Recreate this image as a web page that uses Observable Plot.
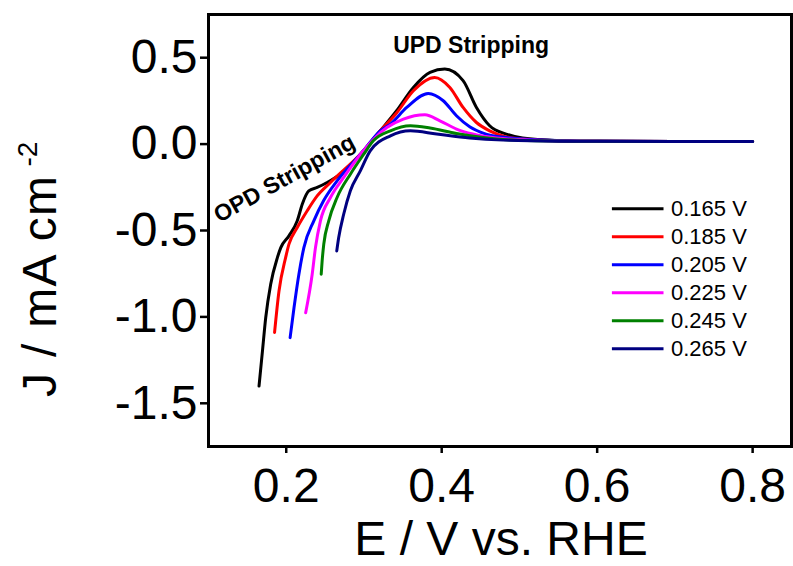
<!DOCTYPE html>
<html>
<head>
<meta charset="utf-8">
<script src="https://cdn.jsdelivr.net/npm/d3@7"></script>
<script src="https://cdn.jsdelivr.net/npm/@observablehq/plot@0.6"></script>
<style>
  body { margin: 0; background: #fff; }
  svg { display: block; }
</style>
</head>
<body>
<div id="chart"></div>
<script>
// Stripping voltammograms after deposition at different potentials
const potentials = ["0.165 V", "0.185 V", "0.205 V", "0.225 V", "0.245 V", "0.265 V"];
const colors = ["#000000", "#ff0000", "#0000ff", "#ff00ff", "#008000", "#000080"];

const E_165 = [0.165, 0.1694, 0.1736, 0.180, 0.1886, 0.193, 0.2035, 0.2142, 0.2206, 0.229, 0.2398, 0.2526, 0.2697, 0.2974, 0.321, 0.342, 0.3636, 0.385, 0.404, 0.4275, 0.4447, 0.4617, 0.483, 0.504, 0.55, 0.6, 0.7, 0.8];
const J_165 = [-1.40, -1.198, -1.005, -0.811, -0.657, -0.599, -0.531, -0.444, -0.348, -0.271, -0.251, -0.222, -0.174, -0.049, 0.077, 0.193, 0.328, 0.415, 0.434, 0.367, 0.212, 0.106, 0.058, 0.035, 0.020, 0.016, 0.015, 0.015];

const E_185 = [0.185, 0.1907, 0.1992, 0.2035, 0.2142, 0.227, 0.2398, 0.2569, 0.2974, 0.321, 0.342, 0.3636, 0.391, 0.4105, 0.4275, 0.4447, 0.4617, 0.483, 0.51, 0.55, 0.6, 0.7, 0.8];
const J_185 = [-1.09, -0.85, -0.657, -0.579, -0.483, -0.386, -0.300, -0.222, -0.049, 0.077, 0.180, 0.309, 0.386, 0.328, 0.212, 0.125, 0.077, 0.042, 0.028, 0.020, 0.016, 0.015, 0.015];

const E_205 = [0.205, 0.210, 0.2163, 0.2227, 0.2355, 0.248, 0.2654, 0.2974, 0.321, 0.334, 0.355, 0.3827, 0.402, 0.419, 0.436, 0.457, 0.483, 0.52, 0.6, 0.7, 0.8];
const J_205 = [-1.12, -0.947, -0.753, -0.599, -0.444, -0.328, -0.213, -0.049, 0.077, 0.116, 0.212, 0.293, 0.251, 0.164, 0.100, 0.058, 0.038, 0.025, 0.016, 0.015, 0.015];

const E_225 = [0.225, 0.2334, 0.2376, 0.244, 0.2569, 0.2739, 0.2974, 0.3294, 0.3507, 0.3784, 0.3977, 0.419, 0.44, 0.47, 0.52, 0.6, 0.7, 0.8];
const J_225 = [-0.976, -0.753, -0.599, -0.444, -0.309, -0.193, -0.049, 0.096, 0.145, 0.170, 0.135, 0.087, 0.058, 0.035, 0.022, 0.016, 0.015, 0.015];

const E_245 = [0.245, 0.2462, 0.2483, 0.2547, 0.2654, 0.2825, 0.2995, 0.312, 0.334, 0.3597, 0.385, 0.419, 0.453, 0.5, 0.6, 0.7, 0.8];
const J_245 = [-0.753, -0.676, -0.579, -0.444, -0.309, -0.174, -0.060, 0.019, 0.077, 0.106, 0.093, 0.061, 0.038, 0.022, 0.016, 0.015, 0.015];

const E_265 = [0.265, 0.2675, 0.2739, 0.2825, 0.2953, 0.308, 0.334, 0.3597, 0.3935, 0.436, 0.479, 0.55, 0.6, 0.7, 0.8];
const J_265 = [-0.618, -0.541, -0.406, -0.270, -0.155, -0.039, 0.048, 0.077, 0.058, 0.035, 0.023, 0.017, 0.016, 0.015, 0.015];

const xTicks = [0.2, 0.4, 0.6, 0.8];
const yTicks = [-1.5, -1.0, -0.5, 0.0, 0.5];

const curves = [[E_165, J_165], [E_185, J_185], [E_205, J_205], [E_225, J_225], [E_245, J_245], [E_265, J_265]];
const rows = curves.flatMap(([E, J], i) => E.map((e, k) => ({series: potentials[i], E: e, J: J[k]})));

// legend placement, in data units
const legendX1 = 0.6196, legendX2 = 0.686, legendTop = -0.374, legendStep = 0.162;
const legendRows = potentials.map((p, i) => ({series: p, J: legendTop - i * legendStep}));

const font = "'Liberation Sans', Arial, sans-serif";

const plot = Plot.plot({
  width: 793,
  height: 566,
  marginLeft: 208,
  marginRight: 2,
  marginTop: 14,
  marginBottom: 120,
  style: {fontFamily: font, background: "#fff", color: "#000"},
  x: {domain: [0.1, 0.85]},
  y: {domain: [-1.75, 0.75]},
  color: {domain: potentials, range: colors},
  marks: [
    Plot.line(rows, {x: "E", y: "J", z: "series", stroke: "series", strokeWidth: 3, curve: "monotone-x"}),
    Plot.ruleY(legendRows, {y: "J", x1: legendX1, x2: legendX2, stroke: "series", strokeWidth: 3}),
    Plot.text(legendRows, {y: "J", x: legendX2, text: "series", textAnchor: "start", dx: 7, fontSize: 22, fill: "#000"}),
    Plot.text(["UPD Stripping"], {x: [0.4378], y: [0.571], text: d => d, fontSize: 23, fontWeight: "bold", fill: "#000"}),
    Plot.text(["OPD Stripping"], {x: [0.1978], y: [-0.199], text: d => d, fontSize: 23, fontWeight: "bold", rotate: -29, fill: "#000"}),
    Plot.frame({stroke: "#000", strokeWidth: 3}),
    Plot.axisX({ticks: xTicks, tickFormat: d => d.toFixed(1), tickSize: 7, strokeWidth: 2.5, tickPadding: 14, fontSize: 48, label: null}),
    Plot.axisY({ticks: yTicks, tickFormat: d => d.toFixed(1), tickSize: 8, strokeWidth: 2.5, tickPadding: 3, fontSize: 48, label: null})
  ]
});

const svg = d3.select(plot);
svg.append("text")
  .attr("x", 501).attr("y", 555)
  .attr("text-anchor", "middle")
  .attr("font-family", font).attr("font-size", 48)
  .text("E / V vs. RHE");

const yt = svg.append("text")
  .attr("transform", "translate(56,397) rotate(-90)")
  .attr("text-anchor", "start")
  .attr("font-family", font).attr("font-size", 48);
yt.append("tspan").attr("letter-spacing", 1.3).text("J / mA cm");
yt.append("tspan").attr("font-size", 28).attr("dx", 8).attr("dy", -19).text("-2");

document.getElementById("chart").append(plot);
</script>
</body>
</html>
